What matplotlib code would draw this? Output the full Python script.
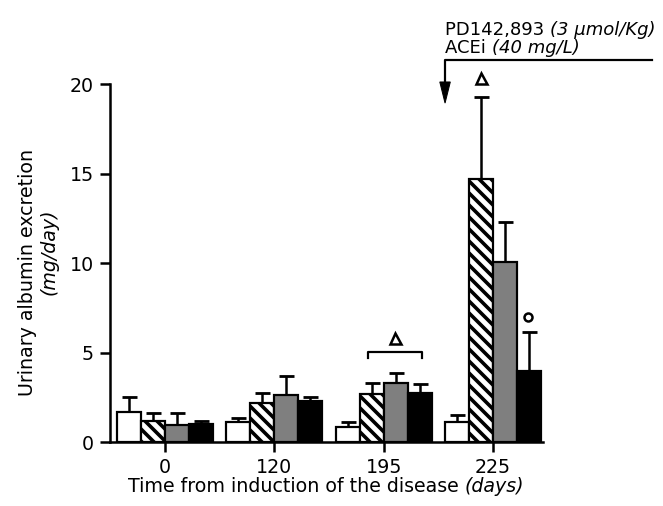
import matplotlib
matplotlib.use("Agg")
import matplotlib.pyplot as plt
import numpy as np
from matplotlib.lines import Line2D
from matplotlib.patches import Polygon

plt.rcParams['font.family'] = ['DejaVu Sans']
plt.rcParams['hatch.linewidth'] = 3.6

# ---- data ----
days = ["0", "120", "195", "225"]
groups = ["Control", "Untreated", "PD142,893", "PD142,893 + ACEi"]
white_vals = [1.71, 1.15, 0.87, 1.12]
white_err = [0.82, 0.21, 0.26, 0.41]
hatch_vals = [1.21, 2.18, 2.70, 14.69]
hatch_err = [0.43, 0.59, 0.61, 4.62]
grey_vals = [0.97, 2.64, 3.33, 10.09]
grey_err = [0.67, 1.08, 0.54, 2.23]
black_vals = [1.02, 2.32, 2.77, 4.00]
black_err = [0.19, 0.23, 0.49, 2.15]

DPI = 72
fig = plt.figure(figsize=(663 / DPI, 506 / DPI), dpi=DPI)
ax = fig.add_axes([110 / 663, 1 - 442.3 / 506, 433 / 663, 358 / 506])

x = np.arange(len(days))
w = 0.2196
series = [
    (white_vals, white_err, dict(facecolor='white', hatch=None)),
    (hatch_vals, hatch_err, dict(facecolor='white', hatch='\\\\')),
    (grey_vals, grey_err, dict(facecolor='#7f7f7f', hatch=None)),
    (black_vals, black_err, dict(facecolor='black', hatch=None)),
]
for i, (vals, errs, st) in enumerate(series):
    pos = x + (i - 1.5) * w
    ax.bar(pos, vals, width=w, facecolor=st['facecolor'], edgecolor='black',
           linewidth=2.2, hatch=st['hatch'], zorder=2)
    ax.errorbar(pos, vals, yerr=[np.zeros(len(vals)), errs], fmt='none',
                ecolor='black', elinewidth=2.5, capsize=7.5, capthick=2.8, zorder=1)

ax.set_xlim(-0.503, 3.458)
ax.set_ylim(0, 20)
ax.set_xticks(x)
ax.set_xticklabels(days)
ax.set_yticks([0, 5, 10, 15, 20])
for s in ['top', 'right']:
    ax.spines[s].set_visible(False)
for s in ['left', 'bottom']:
    ax.spines[s].set_linewidth(2.5)
ax.tick_params(axis='both', direction='out', length=10, width=2.5, labelsize=19, pad=6)

FS = 19
# x label
t1 = fig.text(128 / 663, 1 - 492 / 506, "Time from induction of the disease ",
              fontsize=FS, va='baseline')
fig.canvas.draw()
ax.annotate("(days)", xy=(1, 0), xycoords=t1, va='bottom', ha='left',
            fontsize=FS, style='italic')

# y label
fig.text(28 / 663, 1 - 272 / 506, "Urinary albumin excretion", rotation=90,
         ha='center', va='center', fontsize=FS)
fig.text(49 / 663, 1 - 252 / 506, "(mg/day)", rotation=90,
         ha='center', va='center', fontsize=FS, style='italic')

# bracket over 195 group
ax.add_line(Line2D([1.857, 1.857, 2.351, 2.351], [4.7, 5.04, 5.04, 4.7],
                   color='black', lw=2.2, clip_on=False))
ax.plot([2.10], [5.83], marker='^', ms=11, mfc='white', mec='black', mew=2.5,
        clip_on=False)
# triangle above 225 hatched
ax.plot([2.89], [20.35], marker='^', ms=11, mfc='white', mec='black', mew=2.5,
        clip_on=False)
# circle above 225 black
ax.plot([3.32], [7.0], marker='o', ms=8, mfc='white', mec='black', mew=2.5,
        clip_on=False)

# treatment arrow
ax.add_line(Line2D([4.456, 2.562, 2.562], [21.36, 21.36, 20.0],
                   color='black', lw=2.2, clip_on=False))
ax.add_patch(Polygon([[2.562 - 0.048, 20.13], [2.562 + 0.048, 20.13], [2.562, 18.95]],
                     closed=True, facecolor='black', edgecolor='black', lw=1,
                     clip_on=False))

p1 = fig.text(445 / 663, 1 - 35 / 506, "PD142,893 ", fontsize=18, va='baseline')
fig.canvas.draw()
ax.annotate("(3 μmol/Kg)", xy=(1, 0), xycoords=p1, va='bottom', ha='left',
            fontsize=18, style='italic')
p2 = fig.text(445 / 663, 1 - 53 / 506, "ACEi ", fontsize=18, va='baseline')
ax.annotate("(40 mg/L)", xy=(1, 0), xycoords=p2, va='bottom', ha='left',
            fontsize=18, style='italic')

fig.savefig("out.png", dpi=DPI)
